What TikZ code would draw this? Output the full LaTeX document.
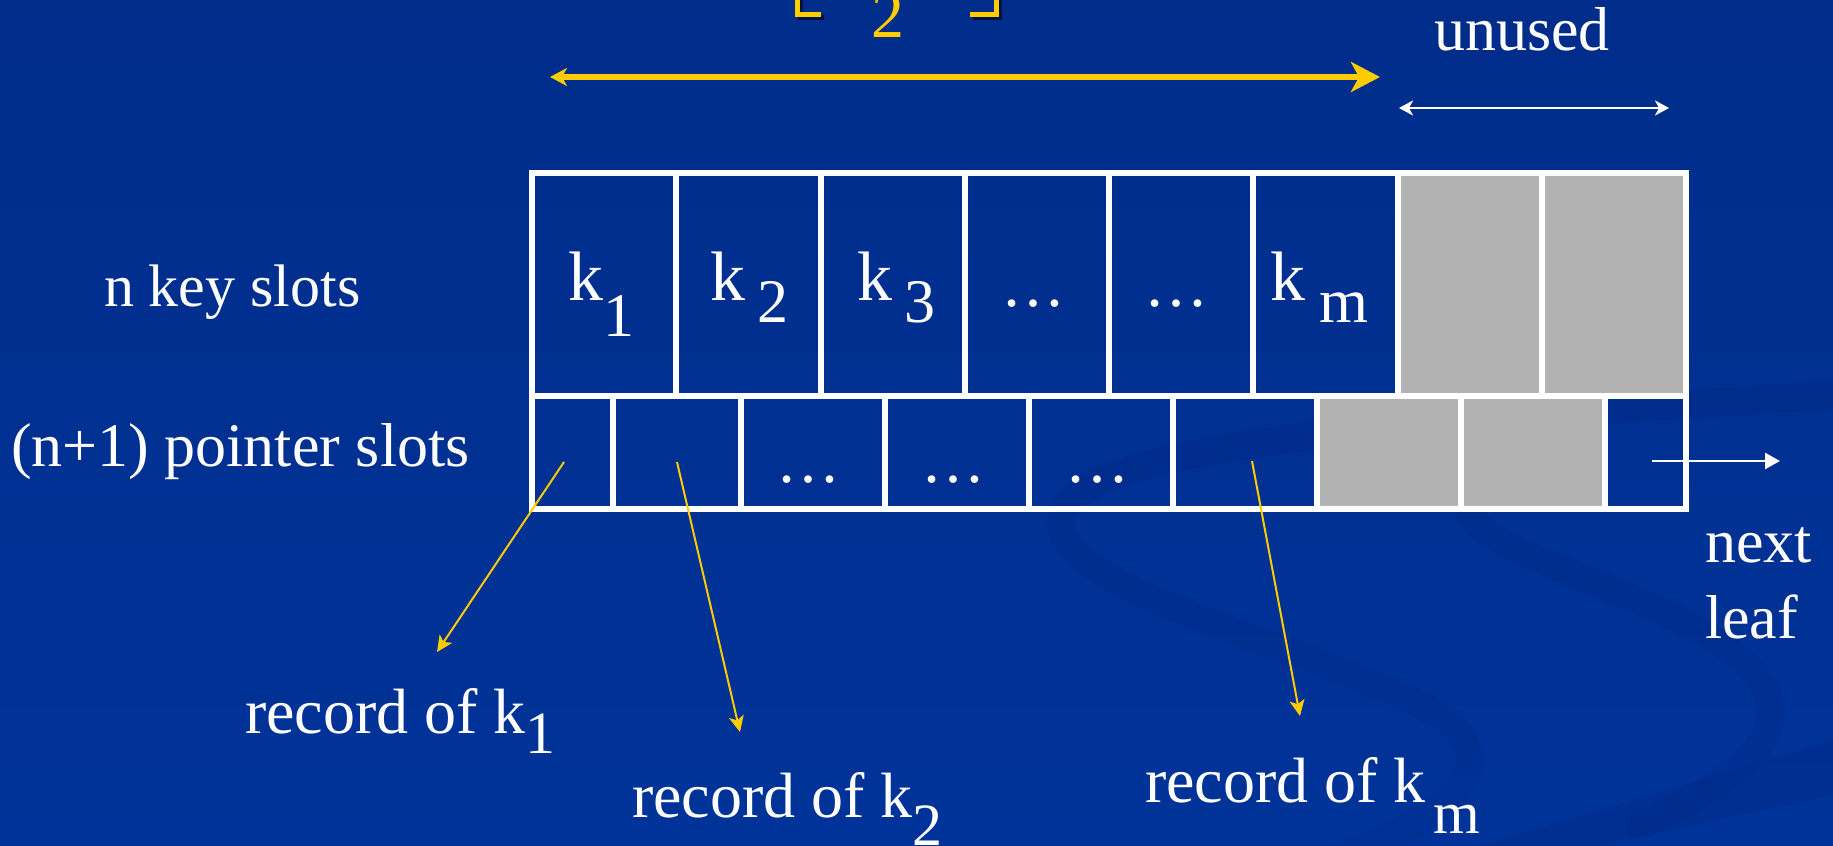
\documentclass[tikz,border=0pt]{standalone}
\usepackage{fontspec}
\setmainfont{Liberation Serif}
\usetikzlibrary{arrows.meta}
\definecolor{bgblue}{RGB}{0,51,153}
\definecolor{bgtop}{RGB}{0,45,138}
\definecolor{swooshc}{RGB}{0,28,105}
\definecolor{slotgray}{RGB}{178,178,178}
\definecolor{gold}{RGB}{255,204,0}
\definecolor{shadowc}{RGB}{0,12,50}
\newcommand{\myfs}[1]{\fontsize{#1}{#1}\selectfont}
\newcommand{\lowered}[3]{{\myfs{#1}\raisebox{-#2}{#3}}}
\begin{document}
\begin{tikzpicture}[x=0.5pt,y=-0.5pt,
  every node/.style={inner sep=0pt, outer sep=0pt, text=white},
  keycell/.style={draw=white, line width=3pt, minimum width=72.125pt, minimum height=111.5pt},
  ptrcell/.style={draw=white, line width=3pt, minimum height=56.5pt},
  unusedcell/.style={fill=slotgray},
  lbl/.style={font=\myfs{31}, anchor=base west},
  keylbl/.style={font=\myfs{35}, anchor=base west},
  dotlbl/.style={font=\myfs{32}, anchor=base},
  reclbl/.style={font=\myfs{32}, anchor=base west},
  ptrarrow/.style={draw=gold, line width=1pt, -{Stealth[length=8pt,width=7.5pt,inset=2pt]}},
  nextarrow/.style={draw=white, line width=1.3pt, -{Triangle[length=7.5pt,width=8pt]}},
  spanarrow/.style={draw=gold, line width=3pt, {Stealth[length=8.5pt,width=9pt,inset=2.5pt]}-{Stealth[length=14.5pt,width=15pt,inset=4pt]}},
  unusedarrow/.style={draw=white, line width=1.25pt, {Stealth[length=7pt,width=7.5pt,inset=2pt]}-{Stealth[length=7pt,width=7.5pt,inset=2pt]}},
  bracketline/.style={draw=gold, line width=2.5pt},
  bracketshadow/.style={draw=shadowc, line width=2.5pt, opacity=0.8},
  swoosh/.style={draw=swooshc, line width=14pt, opacity=0.1, line cap=round}
]
\useasboundingbox (0,0) rectangle (1833,846);
% background
\shade[top color=bgtop, bottom color=bgblue] (0,0) rectangle (1833,846);
\draw[swoosh] (1833,395) .. controls (1450,420) and (1080,440) .. (1062,515) .. controls (1045,590) and (1300,640) .. (1440,715) .. controls (1520,775) and (1420,830) .. (1330,860);
\draw[swoosh] (1470,515) .. controls (1500,565) and (1700,600) .. (1760,680) .. controls (1800,740) and (1720,790) .. (1640,825);
\fill[swooshc, opacity=0.14] (1478,846) -- (1833,740) -- (1833,795) -- (1600,846) -- cycle;

% key slots (top row)
\node[keycell] (c1) at (604.125,284.5) {};
\node[keycell] (c2) at (748.375,284.5) {};
\node[keycell] (c3) at (892.625,284.5) {};
\node[keycell] (c4) at (1036.875,284.5) {};
\node[keycell] (c5) at (1181.125,284.5) {};
\node[keycell] (c6) at (1325.375,284.5) {};
\node[keycell, unusedcell] (c7) at (1469.625,284.5) {};
\node[keycell, unusedcell] (c8) at (1613.875,284.5) {};

% pointer slots (bottom row)
\node[ptrcell, minimum width=40.5pt] (p1) at (572.5,452.5) {};
\node[ptrcell, minimum width=64pt] (p2) at (677,452.5) {};
\node[ptrcell, minimum width=72pt] (p3) at (813,452.5) {};
\node[ptrcell, minimum width=72pt] (p4) at (957,452.5) {};
\node[ptrcell, minimum width=72pt] (p5) at (1101,452.5) {};
\node[ptrcell, minimum width=72pt] (p6) at (1245,452.5) {};
\node[ptrcell, unusedcell, minimum width=72pt] (p7) at (1389,452.5) {};
\node[ptrcell, unusedcell, minimum width=72pt] (p8) at (1533,452.5) {};
\node[ptrcell, minimum width=40.5pt] (p9) at (1645.5,452.5) {};

% key labels
\node[keylbl] (k1) at (568.5,300) {k\lowered{31pt}{18pt}{1}};
\node[keylbl] (k2) at (710.5,300) {k\hspace{6pt}\lowered{31pt}{11pt}{2}};
\node[keylbl] (k3) at (857.5,300) {k\hspace{6pt}\lowered{31pt}{11pt}{3}};
\node[keylbl] (km) at (1270.5,300) {k\hspace{7pt}\lowered{31.5pt}{11pt}{m}};
\node[dotlbl] (d1) at (1033,306) {…};
\node[dotlbl] (d2) at (1176,306) {…};
\node[dotlbl] (d3) at (808,482) {…};
\node[dotlbl] (d4) at (953,482) {…};
\node[dotlbl] (d5) at (1097,482) {…};

% side labels
\node[lbl, font=\myfs{30}] (keyslots) at (104,306) {n key slots};
\node[lbl] (ptrslots) at (11,466) {(n+1) pointer slots};
\node[lbl] (unused) at (1434,50) {unused};
\node[lbl] (next) at (1705,562) {next};
\node[lbl] (leaf) at (1705,638) {leaf};

% record labels
\node[reclbl] (rec1) at (245,733) {record of k\lowered{30pt}{10pt}{1}};
\node[reclbl] (rec2) at (632,817) {record of k\lowered{30pt}{14pt}{2}};
\node[reclbl] (recm) at (1145,802) {record of k\hspace{4pt}\lowered{30pt}{15.5pt}{m}};

% top formula remnant
\draw[bracketshadow, shift={(3,3)}] (797.5,-10) -- (797.5,14.5) -- (821,14.5);
\draw[bracketshadow, shift={(3,3)}] (970,14.5) -- (996,14.5) -- (996,-10);
\draw[bracketline] (797.5,-10) -- (797.5,14.5) -- (821,14.5);
\draw[bracketline] (970,14.5) -- (996,14.5) -- (996,-10);
\node[font=\myfs{33}, anchor=base, text=gold] (half) at (887.5,38) {2};

% span arrows
\coordinate (ya) at (550,77);
\coordinate (yb) at (1380,77);
\draw[spanarrow] (ya) -- (yb);
\coordinate (ua) at (1399,108);
\coordinate (ub) at (1669,108);
\draw[unusedarrow] (ua) -- (ub);

% pointer arrows
\coordinate (s1) at (564,462);
\coordinate (t1) at (437,652);
\coordinate (s2) at (677,462);
\coordinate (t2) at (740,732);
\coordinate (sm) at (1252,461);
\coordinate (tm) at (1300,716);
\draw[ptrarrow] (s1) -- (t1);
\draw[ptrarrow] (s2) -- (t2);
\draw[ptrarrow] (sm) -- (tm);
\coordinate (sn) at (1652,461);
\coordinate (tn) at (1780,461);
\draw[nextarrow] (sn) -- (tn);
\end{tikzpicture}
\end{document}
